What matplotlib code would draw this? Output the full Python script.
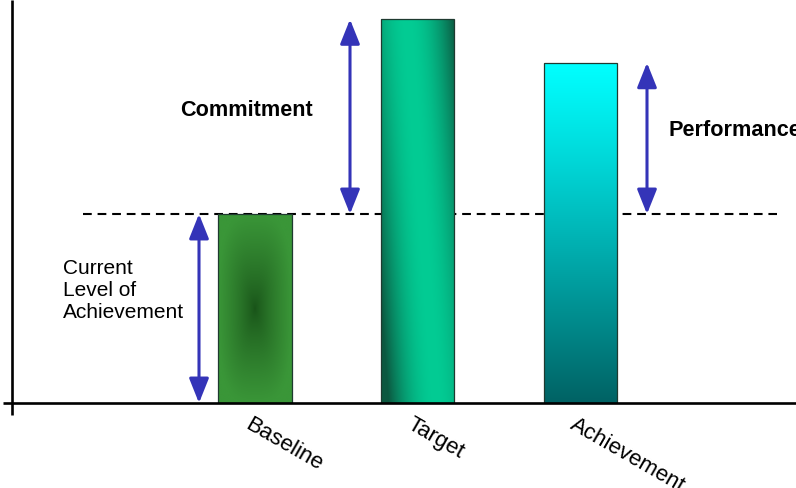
import numpy as np
import matplotlib
matplotlib.use("Agg")
import matplotlib.pyplot as plt
from matplotlib import transforms

plt.rcParams['font.family'] = ['Liberation Sans', 'DejaVu Sans']

# Chart data
categories = ["Baseline", "Target", "Achievement"]
values = [50, 101.5, 90]
gap_labels = ["Current\nLevel of\nAchievement", "Commitment", "Performance"]

W, H = 796, 488
fig = plt.figure(figsize=(W / 100, H / 100), dpi=100)
ax = fig.add_axes([12 / W, 85 / H, 784 / W, 403 / H])

x_pos = np.arange(len(categories), dtype=float)
unit_px = 162.5
xmin = -(255 - 12) / unit_px
xmax = 2 + (796 - 580) / unit_px
ymax = values[0] * 403 / 189
bar_w = 73 / unit_px


def shade(c0, c1, t):
    c0 = np.array(c0, float) / 255
    c1 = np.array(c1, float) / 255
    t = np.clip(t, 0, 1)[..., None]
    return c0 + (c1 - c0) * t


ny, nx = 300, 80
u = np.linspace(0, 1, nx)[None, :].repeat(ny, 0)
v = np.linspace(0, 1, ny)[:, None].repeat(nx, 1)

# Baseline: soft box gradient, dark toward the centre
du, dv = np.abs(2 * u - 1), np.abs(2 * v - 1)
box = (du ** 3 + dv ** 3) ** (1 / 3)
img_base = shade((24, 82, 24), (58, 150, 56), box ** 0.75)

# Target: slanted highlight band running down the bar
centre = 0.36 + 0.4 * v
img_target = shade((2, 204, 148), (12, 88, 64), (np.abs(u - centre) / 0.66) ** 2.0)

# Achievement: vertical cyan-to-teal fade
img_ach = shade((0, 255, 255), (0, 98, 100), v ** 1.1)

images = [img_base, img_target, img_ach]

bars = ax.bar(x_pos, values, width=bar_w, facecolor='none',
              edgecolor='#1f3a30', linewidth=0.9, zorder=4)
for bar, img in zip(bars, images):
    x0, w = bar.get_x(), bar.get_width()
    h = bar.get_height()
    im = ax.imshow(img, extent=(x0, x0 + w, 0, h), origin='upper',
                   aspect='auto', zorder=3, interpolation='bilinear')
    im.set_clip_path(bar)

ax.set_xlim(xmin, xmax)
ax.set_ylim(0, ymax)
ax.set_aspect('auto')
for s in ax.spines.values():
    s.set_visible(False)
ax.set_xticks([])
ax.set_yticks([])

# Axis lines
px_y = ymax / 403
ax.plot([xmin, xmin], [-12 * px_y, ymax], color='black', lw=1.9,
        clip_on=False, zorder=5, solid_capstyle='butt')
ax.plot([xmin - 9 / unit_px, xmax], [0, 0], color='black', lw=1.9,
        clip_on=False, zorder=5, solid_capstyle='butt')

# Baseline reference line
ax.axhline(values[0], xmin=(83 - 12) / 784, xmax=(777 - 12) / 784,
           color='black', lw=1.5, linestyle=(0, (4.2, 2.8)), zorder=2)

# Double-headed arrows marking the gaps
arrow_col = '#3434b8'
arrow_kw = dict(arrowstyle='<|-|>,head_length=0.75,head_width=0.3',
                color=arrow_col, lw=2.2, shrinkA=0, shrinkB=0,
                mutation_scale=20)
spans = [
    (x_pos[0] - 56 / unit_px, 0, values[0]),
    (x_pos[1] - 67.5 / unit_px, values[0], values[1]),
    (x_pos[2] + 67 / unit_px, values[0], values[2]),
]
for xa, y0, y1 in spans:
    ax.annotate('', xy=(xa, y1), xytext=(xa, y0),
                arrowprops=arrow_kw, zorder=6, annotation_clip=False)

# Gap labels
fig.text(63 / W, 1 - 290 / H, gap_labels[0], ha='left', va='center',
         fontsize=15, linespacing=1.2)
fig.text(180 / W, 1 - 110 / H, gap_labels[1], ha='left', va='center',
         fontsize=15.6, fontweight='bold')
fig.text(668 / W, 1 - 130 / H, gap_labels[2], ha='left', va='center',
         fontsize=15.6, fontweight='bold')

# Slanted category labels under the bars
lab_tr = transforms.offset_copy(ax.transData, fig=fig, x=-3, y=-11, units='dots')
for xp, name in zip(x_pos, categories):
    ax.text(xp, 0, name, transform=lab_tr, rotation=-30,
            rotation_mode='anchor', ha='left', va='top', fontsize=16,
            clip_on=False)

fig.savefig('out.png', dpi=100)
